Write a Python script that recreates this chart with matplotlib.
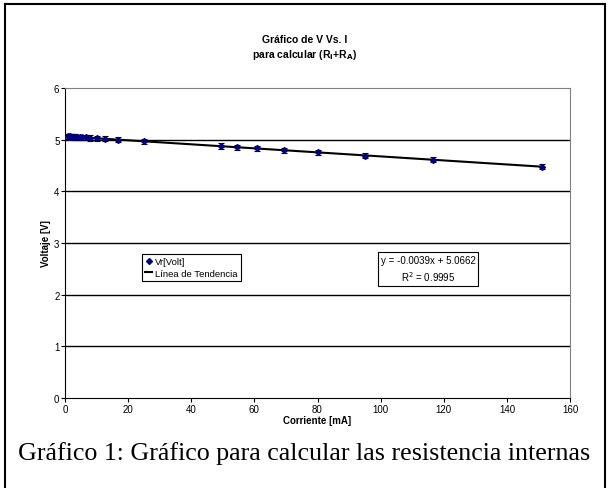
import numpy as np
import matplotlib.pyplot as plt
from matplotlib.lines import Line2D

# data
corriente = [1.0, 1.3, 1.6, 2.0, 2.4, 2.8, 3.3, 3.9, 4.6, 5.5, 6.6, 8.0,
             10.0, 12.6, 16.8, 24.9, 49.4, 54.5, 60.8, 69.4, 80.2, 95.1, 116.6, 151.0]
voltaje = [5.065, 5.060, 5.062, 5.055, 5.058, 5.053, 5.055, 5.049, 5.050, 5.043, 5.042, 5.033,
           5.030, 5.015, 5.003, 4.966, 4.877, 4.851, 4.831, 4.793, 4.756, 4.693, 4.613, 4.475]
error_v = [0.05] * len(voltaje)
pendiente = -0.0039
intercepto = 5.0662
r2 = 0.9995

xticks = [0, 20, 40, 60, 80, 100, 120, 140, 160]
yticks = [0, 1, 2, 3, 4, 5, 6]

plt.rcParams['font.family'] = ['Liberation Sans', 'DejaVu Sans']

fig = plt.figure(figsize=(6.1, 4.89), dpi=100)
W, H = 610, 489

def fx(p):
    return p / W

def fy(p):
    return 1 - p / H

# outer frame of the chart
frame = fig.add_axes([0, 0, 1, 1], zorder=-5)
frame.set_xlim(0, W)
frame.set_ylim(H, 0)
frame.axis('off')
frame.plot([5, 605], [5, 5], color='black', lw=1.5)
frame.plot([5, 5], [5, H], color='black', lw=1.5)
frame.plot([605, 605], [5, H], color='black', lw=1.5)

ax = fig.add_axes([fx(65), fy(399), fx(570 - 65), (399 - 89) / H])
ax.set_xlim(0, 160)
ax.set_ylim(0, 6)

for v in yticks[1:-1]:
    ax.axhline(v, color='black', lw=1, zorder=1)

ax.errorbar(corriente, voltaje, yerr=error_v, fmt='none', ecolor='black',
            elinewidth=0.8, capsize=2, capthick=0.8, zorder=3)
ax.plot(corriente, voltaje, linestyle='none', marker='D', markersize=3,
        color='#000080', zorder=4)
xt = np.array([min(corriente), max(corriente)])
ax.plot(xt, pendiente * xt + intercepto, color='black', lw=1.5, zorder=2)

for s in ['top', 'right']:
    ax.spines[s].set_color('#808080')
for s in ['left', 'bottom']:
    ax.spines[s].set_color('black')

ax.set_xticks(xticks)
ax.set_yticks(yticks)
ax.tick_params(direction='out', length=3, width=0.8, labelsize=7, colors='black', pad=1)
ax.set_xlabel('Corriente [mA]', fontsize=7, fontweight='bold', labelpad=1)
ax.set_ylabel('Voltaje [V]', fontsize=7, fontweight='bold', labelpad=2)

fig.text(0.5, fy(40), 'Gráfico de V Vs. I', ha='center', va='center',
         fontsize=7.5, fontweight='bold')
fig.text(0.5, fy(55), 'para calcular (R$_\\mathbf{i}$+R$_\\mathbf{A}$)', ha='center', va='center',
         fontsize=7.5, fontweight='bold')

handles = [Line2D([], [], linestyle='none', marker='D', markersize=3, color='#000080'),
           Line2D([], [], color='black', lw=1.5)]
leg = ax.legend(handles, ['Vr[Volt]', 'Línea de Tendencia'], loc='upper left',
                bbox_to_anchor=((142 - 65) / 505, (399 - 255) / 310), fontsize=6.8,
                fancybox=False, edgecolor='black', framealpha=1, handlelength=0.8,
                handletextpad=0.3, borderpad=0.3, labelspacing=0.3, borderaxespad=0)
leg.get_frame().set_linewidth(0.8)

ax.text((428 - 65) / 505, (399 - 270) / 310,
        'y = %.4fx + %.4f\nR$^2$ = %.4f' % (pendiente, intercepto, r2),
        transform=ax.transAxes, ha='center', va='center', fontsize=7, linespacing=1.4,
        bbox=dict(boxstyle='square,pad=0.25', facecolor='white', edgecolor='black', lw=0.8))

fig.text(fx(18), fy(454), 'Gráfico 1: Gráfico para calcular las resistencia internas',
         ha='left', va='center', fontsize=18.7, family=['Liberation Serif', 'DejaVu Serif'])

fig.savefig('out.png', dpi=100)
